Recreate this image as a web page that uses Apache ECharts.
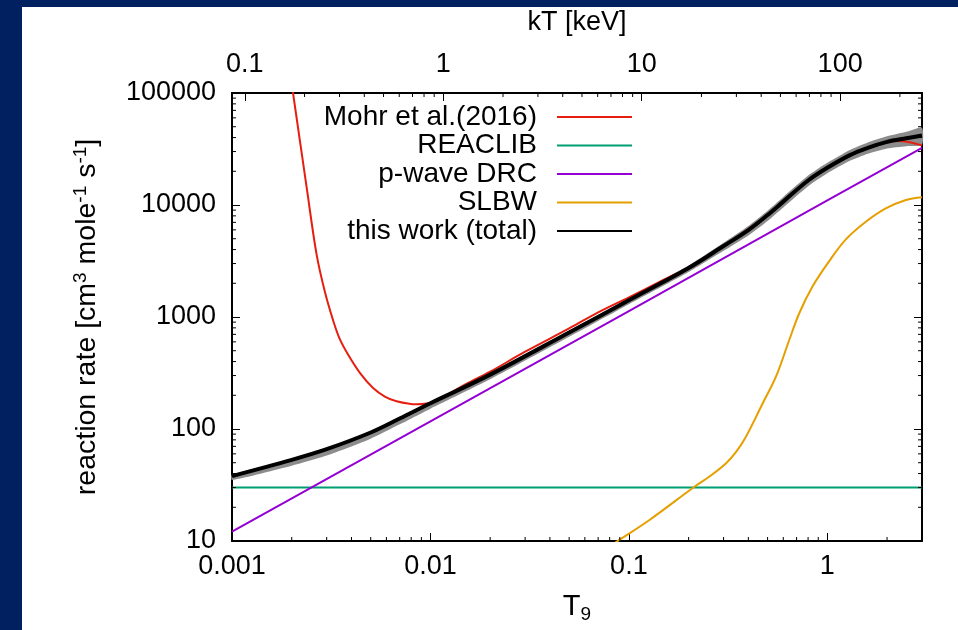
<!DOCTYPE html>
<html>
<head>
<meta charset="UTF-8">
<title>Reaction rate vs T9</title>
<style>
  html, body { margin: 0; padding: 0; background: #002060; }
  #chart { position: absolute; left: 22px; top: 7px; width: 936px; height: 623px; background: #fff; }
</style>
<script src="https://cdn.jsdelivr.net/npm/echarts@6/dist/echarts.min.js"></script>
</head>
<body>
<div id="chart"></div>
<script>
var T9_MIN = 0.001, T9_MAX = 3;
var RATE_MIN = 10, RATE_MAX = 100000;
var KEV_PER_T9 = 86.17;
var FONT = '"Liberation Sans", Arial, sans-serif';

// tick values and labels
var xTicks = [0.001, 0.01, 0.1, 1];
var xTickLabels = ['0.001', '0.01', '0.1', '1'];
var kTTicks = [0.1, 1, 10, 100];
var kTTickLabels = ['0.1', '1', '10', '100'];
var yTicks = [10, 100, 1000, 10000, 100000];
var yTickLabels = ['10', '100', '1000', '10000', '100000'];
var xMinorTicks = [0.002, 0.003, 0.004, 0.005, 0.006, 0.007, 0.008, 0.009,
  0.02, 0.03, 0.04, 0.05, 0.06, 0.07, 0.08, 0.09,
  0.2, 0.3, 0.4, 0.5, 0.6, 0.7, 0.8, 0.9, 2];
var kTMinorTicks = [0.2, 0.3, 0.4, 0.5, 0.6, 0.7, 0.8, 0.9,
  2, 3, 4, 5, 6, 7, 8, 9, 20, 30, 40, 50, 60, 70, 80, 90, 200];
var yMinorTicks = [20, 30, 40, 50, 60, 70, 80, 90, 200, 300, 400, 500, 600, 700, 800, 900,
  2000, 3000, 4000, 5000, 6000, 7000, 8000, 9000, 20000, 30000, 40000, 50000, 60000, 70000, 80000, 90000];

// series (T9, rate)
var tMohr = [0.00195, 0.00203, 0.00238, 0.00267, 0.00294, 0.00324, 0.00349, 0.00385, 0.00445, 0.00514,
  0.00589, 0.00675, 0.0085, 0.0105, 0.015, 0.02, 0.03, 0.05, 0.07, 0.1, 0.15, 0.2, 0.3, 0.5, 0.7,
  1.0, 1.5, 2.0, 2.3, 2.6, 3.0];
var rateMohr = [163000, 100000, 14200, 3600, 1670, 921, 637, 460, 310, 232,
  195, 177, 166, 176, 250, 325, 490, 790, 1100, 1500, 2150, 2780, 4300, 8130, 13500,
  21500, 31000, 36200, 37300, 36300, 34000];

var tReaclib = [0.001, 3];
var rateReaclib = [30, 30];

var tDrc = [0.001, 0.01, 0.1, 1, 3];
var rateDrc = [12.1, 117, 1130, 11000, 32300];

var tSlbw = [0.0794, 0.0879, 0.127, 0.214, 0.257, 0.309, 0.347, 0.389, 0.472, 0.551, 0.643, 0.722, 0.842,
  1.022, 1.24, 1.563, 1.97, 2.49, 3.0];
var rateSlbw = [8.9, 10, 15.4, 30.5, 38, 49.4, 62.4, 85.3, 169, 293, 623, 1080, 1870,
  3150, 4930, 7090, 9340, 11100, 11750];

var tTotal = [0.001, 0.002, 0.003, 0.005, 0.007, 0.01, 0.02, 0.05, 0.1, 0.2, 0.3, 0.4, 0.5, 0.6, 0.8,
  1.0, 1.3, 1.6, 2.0, 2.5, 3.0];
var rateTotal = [38, 53, 66, 93, 124, 170, 306, 728, 1410, 2740, 4300, 5970, 8130, 10720, 16560,
  21500, 27900, 32400, 36600, 39400, 41700];
var rateTotalLow = [35, 47, 58, 82, 110, 152, 278, 665, 1300, 2520, 3900, 5350, 7200, 9500, 14700,
  19200, 24800, 28700, 32000, 33500, 34500];
var rateTotalHigh = [39, 54, 68, 95, 127, 175, 315, 755, 1470, 2880, 4600, 6500, 8900, 11800, 18300,
  23800, 31000, 36200, 41000, 45000, 49000];

function pairs(xs, ys) {
  return xs.map(function (x, i) { return [x, ys[i]]; });
}

// label only at decades listed in the tick arrays
function decadeLabel(ticks, labels) {
  return function (v) {
    for (var i = 0; i < ticks.length; i++) {
      if (Math.abs(Math.log10(v) - Math.log10(ticks[i])) < 1e-6) return labels[i];
    }
    return '';
  };
}

var tickStyle = { color: '#000', width: 1 };
var labelStyle = { color: '#000', fontSize: 27, fontFamily: FONT };

var chart = echarts.init(document.getElementById('chart'));

var option = {
  animation: false,
  backgroundColor: '#fff',
  textStyle: { fontFamily: FONT },
  grid: { left: 210, top: 86, right: 36, bottom: 89, containLabel: false, outerBoundsMode: 'none' },
  legend: {
    orient: 'vertical',
    right: 325,
    top: 96,
    padding: 0,
    align: 'right',
    itemWidth: 75,
    itemHeight: 14,
    itemGap: 0.5,
    itemStyle: { opacity: 0 },
    textStyle: { color: '#000', fontSize: 28, fontFamily: FONT, lineHeight: 28, padding: [0, 15, 0, 0] },
    data: ['Mohr et al.(2016)', 'REACLIB', 'p-wave DRC', 'SLBW', 'this work (total)']
  },
  xAxis: [{
    type: 'log',
    min: T9_MIN,
    max: T9_MAX,
    position: 'bottom',
    name: 'T{sub|9}',
    nameLocation: 'middle',
    nameGap: 48,
    nameTextStyle: {
      color: '#000', fontSize: 29, fontFamily: FONT,
      rich: { sub: { fontSize: 19, fontFamily: FONT, color: '#000', padding: [16, 0, 0, 0] } }
    },
    axisLine: { show: true, lineStyle: { color: '#000', width: 2 } },
    axisTick: { show: true, inside: true, length: 8, lineStyle: tickStyle },
    axisLabel: Object.assign({ margin: 12, formatter: decadeLabel(xTicks, xTickLabels) }, labelStyle),
    splitLine: { show: false }
  }, {
    type: 'log',
    min: T9_MIN * KEV_PER_T9,
    max: T9_MAX * KEV_PER_T9,
    position: 'top',
    name: 'kT [keV]',
    nameLocation: 'middle',
    nameGap: 57,
    nameTextStyle: { color: '#000', fontSize: 27, fontFamily: FONT },
    axisLine: { show: true, lineStyle: { color: '#000', width: 2 } },
    axisTick: { show: true, inside: true, length: 8, lineStyle: tickStyle },
    axisLabel: Object.assign({ margin: 15, formatter: decadeLabel(kTTicks, kTTickLabels) }, labelStyle),
    splitLine: { show: false }
  }],
  yAxis: [{
    type: 'log',
    min: RATE_MIN,
    max: RATE_MAX,
    position: 'left',
    name: 'reaction rate [cm{sup|3} mole{sup|-1} s{sup|-1}]',
    nameLocation: 'middle',
    nameGap: 128,
    nameTextStyle: {
      color: '#000', fontSize: 28.5, fontFamily: FONT,
      rich: { sup: { fontSize: 19, fontFamily: FONT, color: '#000', padding: [0, 0, 14, 0] } }
    },
    axisLine: { show: true, lineStyle: { color: '#000', width: 2 } },
    axisTick: { show: true, inside: true, length: 8, lineStyle: tickStyle },
    axisLabel: Object.assign({ margin: 16, formatter: decadeLabel(yTicks, yTickLabels) }, labelStyle),
    splitLine: { show: false }
  }, {
    type: 'log',
    min: RATE_MIN,
    max: RATE_MAX,
    position: 'right',
    axisLine: { show: true, lineStyle: { color: '#000', width: 2 } },
    axisTick: { show: true, inside: true, length: 8, lineStyle: tickStyle },
    axisLabel: { show: false },
    splitLine: { show: false }
  }],
  series: [
    {
      // uncertainty band of this work
      type: 'custom',
      silent: true,
      xAxisIndex: 0,
      yAxisIndex: 0,
      data: [[T9_MIN, RATE_MIN]],
      renderItem: function (params, api) {
        var pts = [];
        for (var i = 0; i < tTotal.length; i++) pts.push(api.coord([tTotal[i], rateTotalHigh[i]]));
        for (var j = tTotal.length - 1; j >= 0; j--) pts.push(api.coord([tTotal[j], rateTotalLow[j]]));
        return {
          type: 'polygon',
          shape: { points: pts, smooth: 0.2 },
          style: { fill: '#8c8c8c', stroke: null }
        };
      },
      z: 1
    },
    {
      name: 'Mohr et al.(2016)',
      type: 'line',
      data: pairs(tMohr, rateMohr),
      symbol: 'none',
      smooth: 0.35,
      lineStyle: { color: '#e51e10', width: 2 },
      itemStyle: { color: '#e51e10' },
      z: 2
    },
    {
      name: 'REACLIB',
      type: 'line',
      data: pairs(tReaclib, rateReaclib),
      symbol: 'none',
      lineStyle: { color: '#009e73', width: 2 },
      itemStyle: { color: '#009e73' },
      z: 2
    },
    {
      name: 'p-wave DRC',
      type: 'line',
      data: pairs(tDrc, rateDrc),
      symbol: 'none',
      lineStyle: { color: '#9400d3', width: 2 },
      itemStyle: { color: '#9400d3' },
      z: 2
    },
    {
      name: 'SLBW',
      type: 'line',
      data: pairs(tSlbw, rateSlbw),
      symbol: 'none',
      smooth: 0.35,
      lineStyle: { color: '#e69f00', width: 2 },
      itemStyle: { color: '#e69f00' },
      z: 2
    },
    {
      name: 'this work (total)',
      type: 'line',
      data: pairs(tTotal, rateTotal),
      symbol: 'none',
      smooth: 0.35,
      lineStyle: { color: '#000', width: 4 },
      itemStyle: { color: '#000' },
      z: 3
    },
    {
      // minor ticks, bottom axis
      type: 'custom',
      silent: true,
      xAxisIndex: 0,
      yAxisIndex: 0,
      data: xMinorTicks.map(function (v) { return [v, RATE_MIN]; }),
      renderItem: function (params, api) {
        var p = api.coord([api.value(0), api.value(1)]);
        return { type: 'line', shape: { x1: p[0], y1: p[1], x2: p[0], y2: p[1] - 4 }, style: { stroke: '#000', lineWidth: 1 } };
      },
      z: 4
    },
    {
      // minor ticks, top (kT) axis
      type: 'custom',
      silent: true,
      xAxisIndex: 1,
      yAxisIndex: 0,
      data: kTMinorTicks.map(function (v) { return [v, RATE_MAX]; }),
      renderItem: function (params, api) {
        var p = api.coord([api.value(0), api.value(1)]);
        return { type: 'line', shape: { x1: p[0], y1: p[1], x2: p[0], y2: p[1] + 4 }, style: { stroke: '#000', lineWidth: 1 } };
      },
      z: 4
    },
    {
      // minor ticks, left and right axes
      type: 'custom',
      silent: true,
      xAxisIndex: 0,
      yAxisIndex: 0,
      data: yMinorTicks.map(function (v) { return [T9_MIN, v]; }),
      renderItem: function (params, api) {
        var l = api.coord([T9_MIN, api.value(1)]);
        var r = api.coord([T9_MAX, api.value(1)]);
        return {
          type: 'group',
          children: [
            { type: 'line', shape: { x1: l[0], y1: l[1], x2: l[0] + 4, y2: l[1] }, style: { stroke: '#000', lineWidth: 1 } },
            { type: 'line', shape: { x1: r[0], y1: r[1], x2: r[0] - 4, y2: r[1] }, style: { stroke: '#000', lineWidth: 1 } }
          ]
        };
      },
      z: 4
    }
  ]
};

chart.setOption(option);
</script>
</body>
</html>
